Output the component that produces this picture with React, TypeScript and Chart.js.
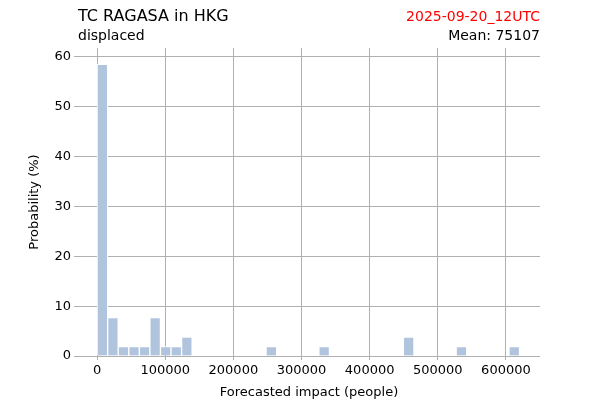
import { useEffect, useRef } from 'react';
import { Chart, registerables } from 'chart.js';

Chart.register(...registerables);

const binWidth = 15500;
const binIndex = [0, 1, 2, 3, 4, 5, 6, 7, 8, 16, 21, 29, 34, 39];
const probability = [58.5, 7.7, 1.9, 1.9, 1.9, 7.7, 1.9, 1.9, 3.8, 1.9, 1.9, 3.8, 1.9, 1.9];
const xTicks = [0, 100000, 200000, 300000, 400000, 500000, 600000];
const yTicks = [0, 10, 20, 30, 40, 50, 60];

const font = 'DejaVu Sans';

const titlePlugin = {
  id: 'titles',
  afterDraw(chart: Chart) {
    const { ctx, chartArea } = chart;
    ctx.save();
    ctx.textBaseline = 'alphabetic';
    ctx.font = `16px "${font}"`;
    ctx.fillStyle = '#000';
    ctx.textAlign = 'left';
    ctx.fillText('TC RAGASA in HKG', chartArea.left, 21);
    ctx.font = `14px "${font}"`;
    ctx.fillStyle = 'red';
    ctx.textAlign = 'right';
    ctx.fillText('2025-09-20_12UTC', chartArea.right, 21);
    ctx.fillStyle = '#000';
    ctx.fillText('Mean: 75107', chartArea.right, 40);
    ctx.textAlign = 'left';
    ctx.fillText('displaced', chartArea.left, 40);
    ctx.font = `13px "${font}"`;
    ctx.textAlign = 'center';
    ctx.fillText('Forecasted impact (people)', (chartArea.left + chartArea.right) / 2, 396);
    ctx.translate(38, (chartArea.top + chartArea.bottom) / 2);
    ctx.rotate(-Math.PI / 2);
    ctx.fillText('Probability (%)', 0, 0);
    ctx.restore();
  },
};

export default function App() {
  const canvasRef = useRef<HTMLCanvasElement | null>(null);

  useEffect(() => {
    document.body.style.margin = '0';
    if (!canvasRef.current) return;
    const chart = new Chart(canvasRef.current, {
      type: 'bar',
      data: {
        datasets: [
          {
            data: binIndex.map((b, i) => ({ x: (b + 0.5) * binWidth, y: probability[i] })),
            backgroundColor: '#b0c4de',
            borderColor: '#ffffff',
            borderWidth: 1,
            barPercentage: 1,
            categoryPercentage: 1,
            grouped: false,
          },
        ],
      },
      options: {
        animation: false,
        responsive: false,
        layout: { padding: { top: 48, right: 60, left: 0, bottom: 0 } },
        plugins: { legend: { display: false }, tooltip: { enabled: false } },
        scales: {
          x: {
            type: 'linear',
            offset: false,
            min: -28000,
            max: 650000,
            afterFit: (s: any) => { s.height = 44; },
            afterBuildTicks: (s: any) => { s.ticks = xTicks.map((v) => ({ value: v })); },
            ticks: { color: '#000', font: { family: font, size: 13 }, callback: (v: any) => String(v), maxRotation: 0 },
            grid: { color: '#b0b0b0', offset: false, tickLength: 4 },
            border: { display: false },
          },
          y: {
            min: 0,
            max: 61.8,
            afterFit: (s: any) => { s.width = 78; },
            afterBuildTicks: (s: any) => { s.ticks = yTicks.map((v) => ({ value: v })); },
            ticks: { color: '#000', font: { family: font, size: 13 } },
            grid: { color: '#b0b0b0', tickLength: 4 },
            border: { display: false },
          },
        },
      },
      plugins: [titlePlugin],
    });
    return () => chart.destroy();
  }, []);

  return (
    <div style={{ width: 600, height: 400 }}>
      <canvas ref={canvasRef} width={600} height={400} />
    </div>
  );
}
